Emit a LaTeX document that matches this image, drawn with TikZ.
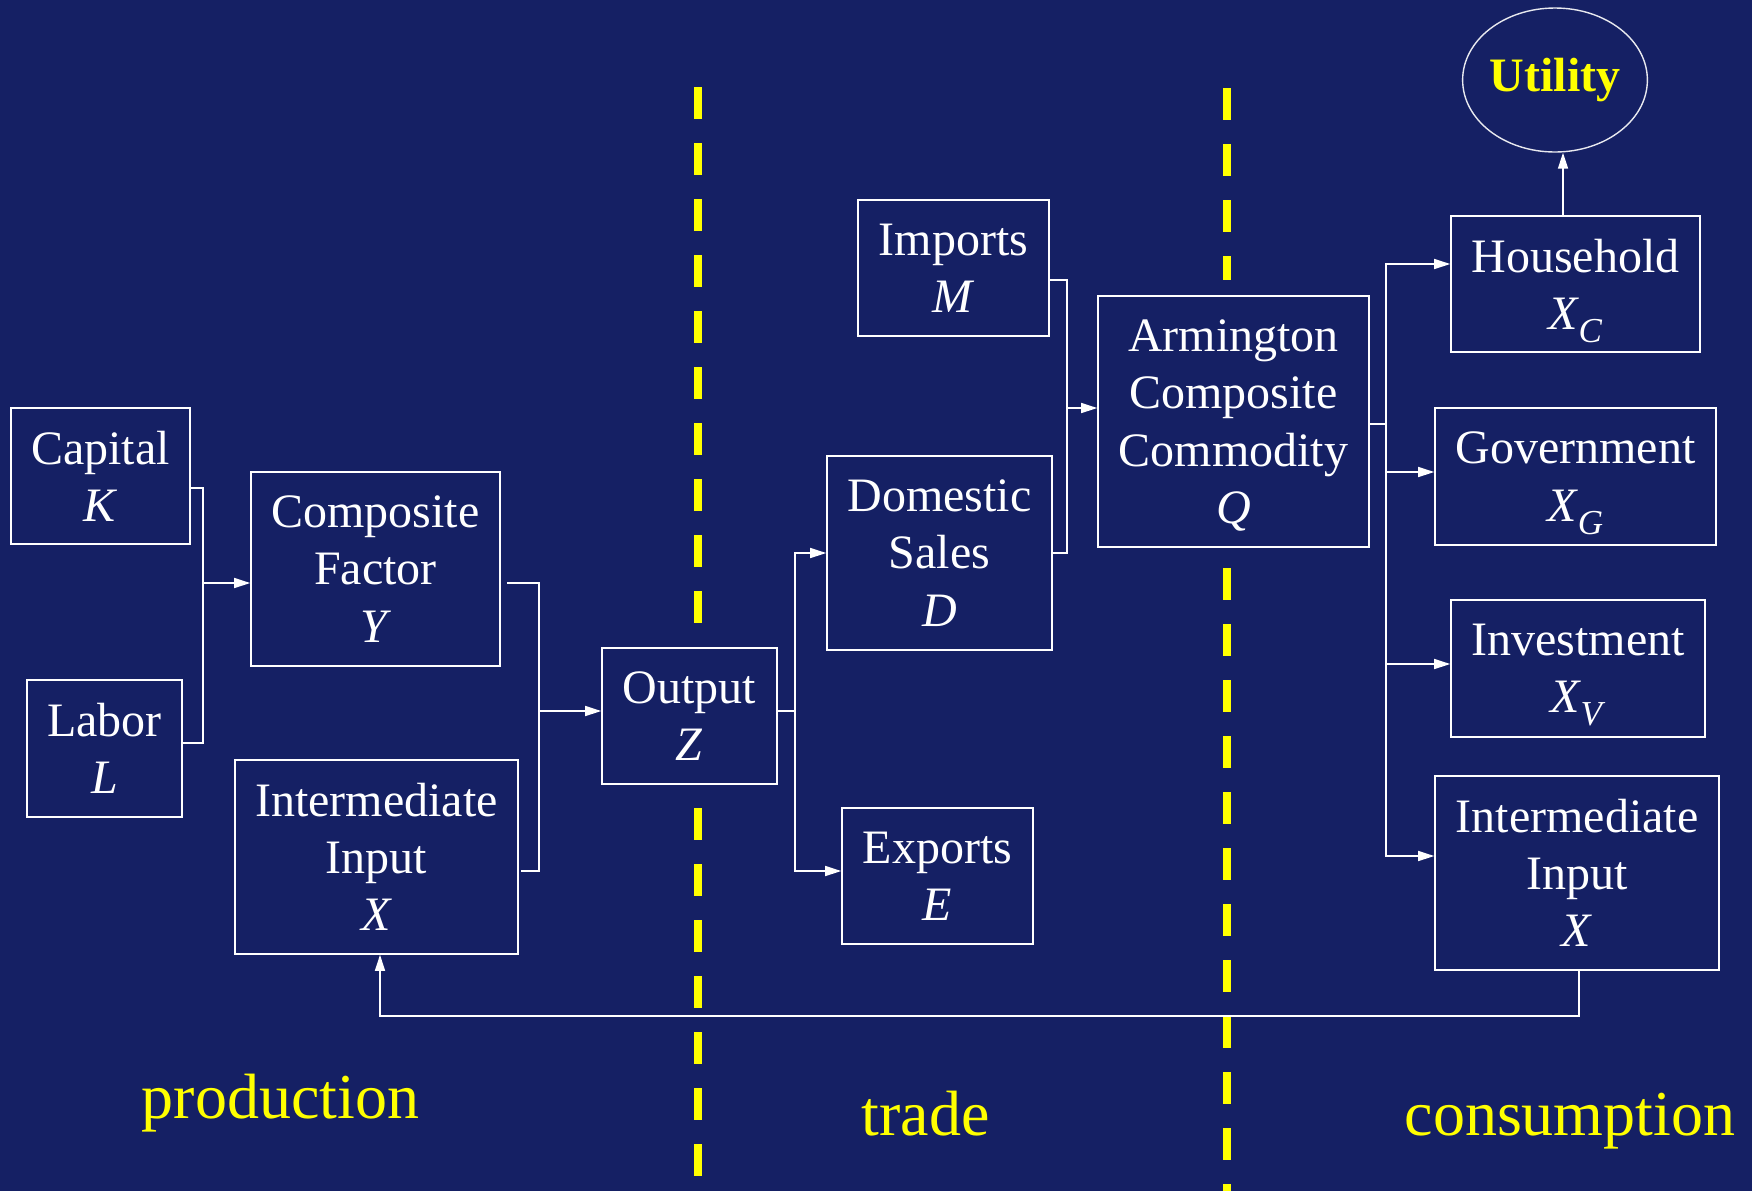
\documentclass[tikz,border=0pt]{standalone}
\usepackage{fontspec}
\setmainfont{Liberation Serif}
\usetikzlibrary{arrows.meta,calc,shapes.geometric}
\definecolor{navy}{RGB}{21,32,100}
\definecolor{markyellow}{RGB}{255,255,0}
% lowered italic subscript that adds no height or depth to its line
\newcommand{\lowsub}[1]{\kern-0.5pt\raisebox{-6.5pt}[0pt][0pt]{\fontsize{17.5}{17.5}\selectfont\textit{#1}}}

\begin{document}
\begin{tikzpicture}[x=0.5pt,y=-0.5pt,
  box/.style={draw=white, line width=0.8pt, text=white, inner sep=0pt,
    align=center, font=\fontsize{24}{28.6}\selectfont},
  conn/.style={draw=white, line width=0.75pt},
  arr/.style={conn, -{Triangle[length=8pt,width=5pt]}},
  divider/.style={draw=markyellow, line width=4.2pt, dash pattern=on 16pt off 12pt},
  region/.style={text=markyellow, font=\fontsize{32}{38}\selectfont, inner sep=0pt, anchor=base}]

% page frame and background
\useasboundingbox (0,0) rectangle (1752,1190);
\fill[navy] (-2,-2) rectangle (1754,1192);

% sector dividers
\draw[divider] (698,87) -- (698,623);
\draw[divider] (698,808) -- (698,1176);
\draw[divider] (1227,88) -- (1227,280);
\draw[divider] (1227,568) -- (1227,1192);

% production
\node[box, minimum width=89.5pt, minimum height=68pt] (cap) at (100.5,476) {Capital\\\textit{K}};
\node[box, minimum width=77.5pt, minimum height=68.5pt] (lab) at (104.5,748.5) {Labor\\\textit{L}};
\node[box, minimum width=124.5pt, minimum height=97pt] (cf) at (375.5,569) {Composite\\Factor\\\textit{Y}};
\node[box, minimum width=141.5pt, minimum height=97pt] (il) at (376.5,857) {Intermediate\\Input\\\textit{X}};
\node[box, minimum width=87.5pt, minimum height=68pt] (out) at (689.5,716) {Output\\\textit{Z}};

% trade
\node[box, minimum width=95.5pt, minimum height=68pt] (imp) at (953.5,268) {Imports\\\textit{M}};
\node[box, minimum width=112.5pt, minimum height=97pt] (dom) at (939.5,553) {Domestic\\Sales\\\textit{D}};
\node[box, minimum width=95.5pt, minimum height=68pt] (exp) at (937.5,876) {Exports\\\textit{E}};
\node[box, minimum width=135.5pt, minimum height=125.5pt] (arm) at (1233.5,421.5) {Armington\\Composite\\Commodity\\\smash{\textit{Q}}};

% consumption
\node[box, minimum width=124.5pt, minimum height=68pt] (hh) at (1575.5,284) {Household\\\textit{X}\lowsub{C}};
\node[box, minimum width=140.5pt, minimum height=68.5pt] (gov) at (1575.5,476.5) {Government\\\textit{X}\lowsub{G}};
\node[box, minimum width=127pt, minimum height=68.5pt] (inv) at (1578,668.5) {Investment\\\textit{X}\lowsub{V}};
\node[box, minimum width=142pt, minimum height=97pt] (ir) at (1577,873) {Intermediate\\Input\\\textit{X}};
\node[ellipse, draw=white!90!navy, line width=0.7pt, minimum width=89pt, minimum height=72pt,
  inner sep=0pt, text=markyellow, font=\fontsize{24}{28.6}\selectfont\bfseries] (util) at (1555,80) {Utility};

% junction points of the flows
\coordinate (kl) at (203,583);
\coordinate (oj) at (539,711);
\coordinate (tj) at (795,711);
\coordinate (aj) at (1067,408);
\coordinate (cj) at (1386,424);
\coordinate (fb) at (1579,1016);

% factors -> composite factor
\draw[conn] ([yshift=-6pt]cap.east) -| (kl) |- ([yshift=2.75pt]lab.east);
\draw[arr] (kl) -- (kl -| cf.west);

% composite factor + intermediate input -> output
\draw[conn] ([xshift=3pt,yshift=-7pt]cf.east) -| (oj) |- ([xshift=1pt,yshift=-7pt]il.east);
\draw[arr] (oj) -- (oj -| out.west);

% output -> domestic sales / exports
\draw[conn] (tj -| out.east) -- (tj);
\draw[arr] (tj) |- (dom.west);
\draw[arr] (tj) |- ([yshift=2.5pt]exp.west);

% imports + domestic sales -> Armington composite
\draw[conn] ([yshift=-6pt]imp.east) -| (aj) |- (dom.east);
\draw[arr] (aj) -- (aj -| arm.west);

% Armington composite -> final demand
\draw[conn] (cj -| arm.east) -- (cj);
\draw[arr] (cj) |- ([yshift=10pt]hh.west);
\draw[arr] (cj) |- ([yshift=2.25pt]gov.west);
\draw[arr] (cj) |- ([yshift=2.25pt]inv.west);
\draw[arr] (cj) |- ([yshift=8.5pt]ir.west);

% household -> utility
\draw[arr] ([xshift=-6.25pt]hh.north) -- ([xshift=-6.25pt]hh.north |- util.south);

% intermediate input fed back to production
\draw[arr] ([xshift=1pt]ir.south) -- (fb) -| ([xshift=1.75pt]il.south);

% sector labels
\node[region] (prod) at (280.5,1118) {production};
\node[region] (trd) at (925.5,1135) {trade};
\node[region] (cons) at (1570,1135) {consumption};
\end{tikzpicture}
\end{document}
